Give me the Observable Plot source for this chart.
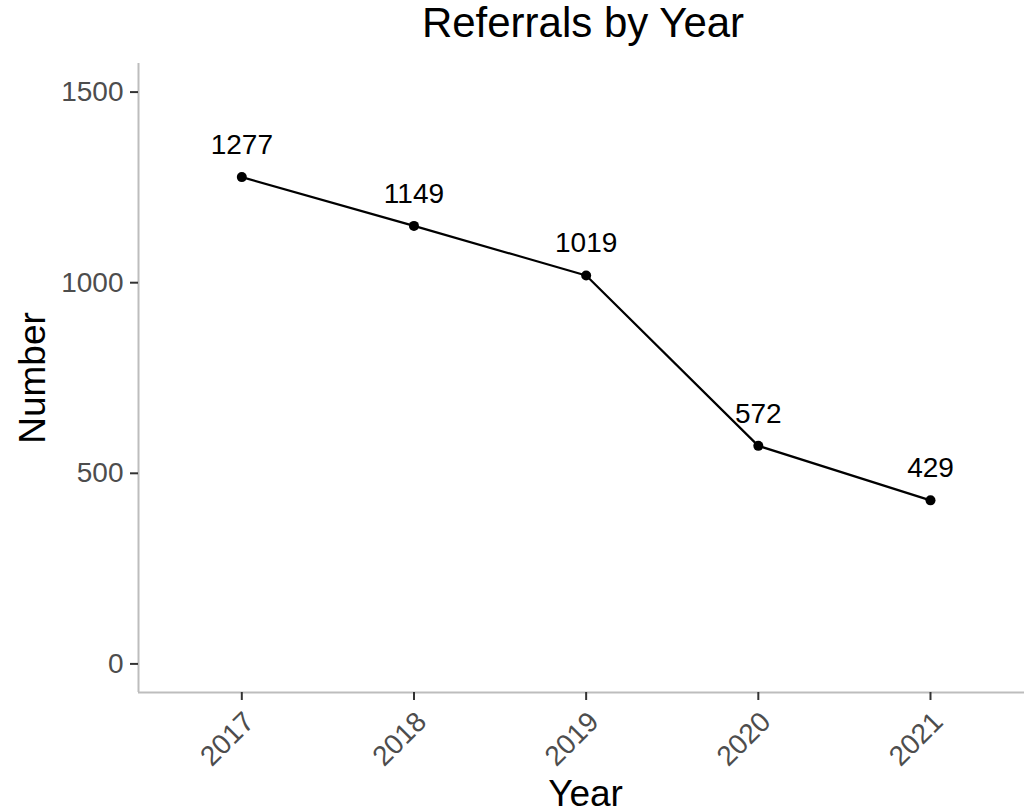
<!DOCTYPE html>
<html>
<head>
<meta charset="utf-8">
<script src="https://cdn.jsdelivr.net/npm/d3@7"></script>
<script src="https://cdn.jsdelivr.net/npm/@observablehq/plot@0.6"></script>
<style>
  html, body { margin: 0; padding: 0; background: #fff; }
  body { font-family: "Liberation Sans", Arial, sans-serif; width: 1024px; height: 812px; overflow: hidden; }
  #title { position: relative; height: 50px; line-height: 46px; font-size: 42px; color: #000; }
  #title span { position: absolute; left: 138px; width: 890px; text-align: center; }
  #chart svg { display: block; }
</style>
</head>
<body>
<div id="title"><span id="titleText"></span></div>
<div id="chart"></div>
<script>
const years = [2017, 2018, 2019, 2020, 2021];
const referrals = [1277, 1149, 1019, 572, 429];
const yTicks = [0, 500, 1000, 1500];
const titleText = "Referrals by Year";
const xTitle = "Year";
const yTitle = "Number";

document.getElementById("titleText").textContent = titleText;

const data = years.map((y, i) => ({year: y, value: referrals[i]}));
const xDomain = [2016.4, 2021.546];
const yDomain = [-75, 1575];

const chart = Plot.plot({
  width: 1024,
  height: 762,
  marginTop: 13,
  marginLeft: 138,
  marginRight: 0,
  marginBottom: 120,
  style: {fontFamily: '"Liberation Sans", Arial, sans-serif', background: "#fff", overflow: "visible"},
  x: {domain: xDomain, axis: null},
  y: {domain: yDomain, axis: null},
  marks: [
    Plot.ruleY([yDomain[0]], {stroke: "#bdbdbd", strokeWidth: 2}),
    Plot.ruleX([xDomain[0]], {stroke: "#bdbdbd", strokeWidth: 2}),
    Plot.axisY({ticks: yTicks, tickSize: 8, tickPadding: 7, fontSize: 28, fill: "#4d4d4d", stroke: "#333", strokeWidth: 2, label: null, tickFormat: d => String(d)}),
    Plot.axisX({ticks: years, tickSize: 8, stroke: "#333", strokeWidth: 2, label: null, tickFormat: () => ""}),
    Plot.text(years, {x: d => d, frameAnchor: "bottom", text: d => String(d), fontSize: 28, fill: "#4d4d4d", rotate: -45, textAnchor: "end", lineAnchor: "top", dx: 0, dy: 17}),
    Plot.line(data, {x: "year", y: "value", stroke: "#000", strokeWidth: 2.2}),
    Plot.dot(data, {x: "year", y: "value", r: 5, fill: "#000", stroke: null}),
    Plot.text(data, {x: "year", y: "value", text: d => String(d.value), fontSize: 28, fill: "#000", lineAnchor: "bottom", dy: -23}),
    Plot.text([xTitle], {frameAnchor: "bottom", text: d => d, fontSize: 37, fill: "#000", textAnchor: "middle", lineAnchor: "bottom", dy: 113, dx: 4}),
    Plot.text([yTitle], {frameAnchor: "left", text: d => d, fontSize: 37, fill: "#000", textAnchor: "middle", lineAnchor: "bottom", rotate: -90, dx: -94})
  ]
});
document.getElementById("chart").appendChild(chart);
</script>
</body>
</html>
